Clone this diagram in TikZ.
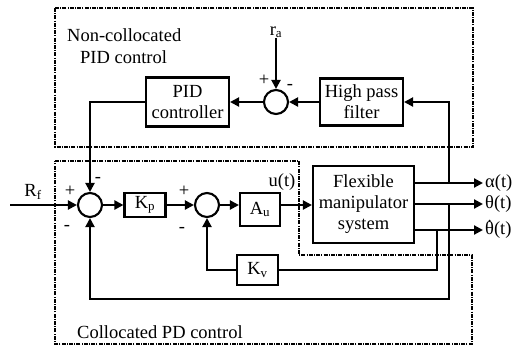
\documentclass[tikz,border=0pt]{standalone}
\usepackage{fontspec}
\setmainfont{Liberation Serif}
\usetikzlibrary{arrows.meta}
\newcommand\dfont{\fontsize{18.5}{21}\selectfont}
\begin{document}
\begin{tikzpicture}[x=1pt,y=-1pt,
  blk/.style={draw,line width=2.1pt,align=center,inner sep=0pt,font=\dfont},
  sumc/.style={draw,circle,line width=2.1pt,minimum size=24pt,inner sep=0pt},
  lbl/.style={inner sep=0pt,font=\dfont},
  sgn/.style={inner sep=0pt,font=\dfont},
  ln/.style={line width=2.1pt},
  arr/.style={line width=2.1pt,-{Triangle[length=9pt,width=9pt]}},
  dbox/.style={line width=1.6pt,dash pattern=on 4pt off 1.2pt on 1pt off 1.2pt}]
\useasboundingbox (0,0) rectangle (516,349);
% dashed regions
\draw[dbox] (55,8) rectangle (473,147);
\draw[dbox] (55,161) -- (299,161) -- (299,255) -- (472,255) -- (472,344) -- (55,344) -- cycle;
\node[lbl,anchor=west] (t1) at (67,35) {Non-collocated};
\node[lbl,anchor=west] (t2) at (80,57) {PID control};
\node[lbl,anchor=west] (t3) at (77,332) {Collocated PD control};
% blocks
\node[blk,minimum width=83pt,minimum height=49pt] (pid) at (187.5,102) {PID\\controller};
\node[blk,minimum width=83pt,minimum height=47pt] (hpf) at (361.5,102) {High pass\\filter};
\node[sumc] (s2) at (276,102) {};
\node[sumc] (s1) at (90,205) {};
\node[blk,minimum width=41pt,minimum height=24pt] (kp) at (145,205) {K\textsubscript{p}};
\node[sumc] (s3) at (207,205) {};
\node[blk,minimum width=40pt,minimum height=33pt] (au) at (260,209.5) {A\textsubscript{u}};
\node[blk,minimum width=101pt,minimum height=77pt] (fms) at (363.5,204.5) {Flexible\\manipulator\\system};
\node[blk,minimum width=41pt,minimum height=30pt] (kv) at (257.5,270) {K\textsubscript{v}};
% labels
\node[lbl] (ra) at (276,32) {r\textsubscript{a}};
\node[lbl] (rf) at (33,192) {R\textsubscript{f}};
\node[lbl] (ut) at (282,182) {u(t)};
\node[lbl,anchor=west] (la) at (485,183) {α(t)};
\node[lbl,anchor=west] (lt) at (485,204) {θ(t)};
\node[lbl,anchor=west] (ld) at (485,230) {\ooalign{θ\cr\hidewidth\raisebox{0.12em}{˙}\hidewidth\cr}(t)};
% signs
\node[sgn] (p1) at (70,191) {+};
\node[sgn] (m1) at (98,180) {-};
\node[sgn] (m1b) at (67,228) {-};
\node[sgn] (p3) at (184,191) {+};
\node[sgn] (m3) at (182,230) {-};
\node[sgn] (p2) at (264,80) {+};
\node[sgn] (m2) at (290,87) {-};
% coordinates
\coordinate (rin) at (10,205);
\coordinate (oa) at (483,183);
\coordinate (ot) at (483,204);
\coordinate (od) at (483,230);
\coordinate (ja) at (449,183);
\coordinate (jt) at (449,204);
\coordinate (jd) at (437,230);
\coordinate (bot) at (449,299);
% connectors
\draw[arr] (rin) -- (s1.west);
\draw[arr] (s1.east) -- (kp.west);
\draw[arr] (kp.east) -- (s3.west);
\draw[arr] (s3.east) -- (au.west |- s3.east);
\draw[arr] (au.east |- s3.east) -- (fms.west |- s3.east);
\draw[arr] (fms.east |- oa) -- (oa);
\draw[arr] (fms.east |- ot) -- (ot);
\draw[arr] (fms.east |- od) -- (od);
\draw[arr] (ja) |- (hpf.east);
\draw[arr] (hpf.west) -- (s2.east);
\draw[arr] (s2.west) -- (pid.east);
\draw[arr] (pid.west) -| (s1.north);
\draw[arr] (ra.south) -- (s2.north);
\draw[arr] (jt) -- (bot) -| (s1.south);
\draw[ln] (jd) |- (kv.east);
\draw[arr] (kv.west) -| (s3.south);
\end{tikzpicture}
\end{document}
